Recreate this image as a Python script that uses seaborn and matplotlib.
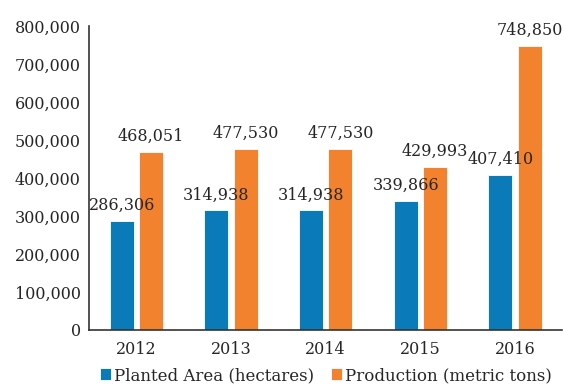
import matplotlib.pyplot as plt
import pandas as pd
import seaborn as sns

# ---------------------------------------------------------
# DATA
# ---------------------------------------------------------
years = ["2012", "2013", "2014", "2015", "2016"]
planted_area = [286306, 314938, 314938, 339866, 407410]
production = [468051, 477530, 477530, 429993, 748850]
series_names = ["Planted Area (hectares)", "Production (metric tons)"]
y_ticks = [0, 100000, 200000, 300000, 400000, 500000, 600000, 700000, 800000]

df = pd.DataFrame({
    "year": years * 2,
    "value": planted_area + production,
    "series": [series_names[0]] * len(years) + [series_names[1]] * len(years),
})

# ---------------------------------------------------------
# PLOTTING
# ---------------------------------------------------------
sns.set_style("white")
plt.rcParams["font.family"] = ["DejaVu Serif"]
plt.rcParams["text.color"] = "#262626"

fig = plt.figure(figsize=(5.64, 3.85), dpi=100)
ax = fig.add_axes([0.158, 0.143, 0.839, 0.789])

palette = {series_names[0]: "#0a7bb8", series_names[1]: "#f2822e"}
sns.barplot(data=df, x="year", y="value", hue="series", palette=palette,
            width=0.62, gap=0.18, saturation=1, edgecolor="white",
            linewidth=0.6, ax=ax)

for cont in ax.containers:
    ax.bar_label(cont, fmt="{:,.0f}", padding=5, fontsize=11.5, color="#262626")

ax.set_ylim(0, 800000)
ax.set_yticks(y_ticks)
ax.set_yticklabels([f"{v:,}" for v in y_ticks])
ax.tick_params(axis="both", length=0, labelsize=11.5, colors="#262626", pad=6)
ax.tick_params(axis="x", pad=8)
ax.set_xlabel("")
ax.set_ylabel("")

for side in ["top", "right"]:
    ax.spines[side].set_visible(False)
for side in ["left", "bottom"]:
    ax.spines[side].set_color("#333333")
    ax.spines[side].set_linewidth(1.2)

ax.legend(loc="upper center", bbox_to_anchor=(0.5, -0.1), ncol=2,
          frameon=False, fontsize=12, handlelength=0.7, handleheight=0.7,
          handletextpad=0.15, columnspacing=1.0, borderaxespad=0)

fig.savefig("out.png", dpi=100)
